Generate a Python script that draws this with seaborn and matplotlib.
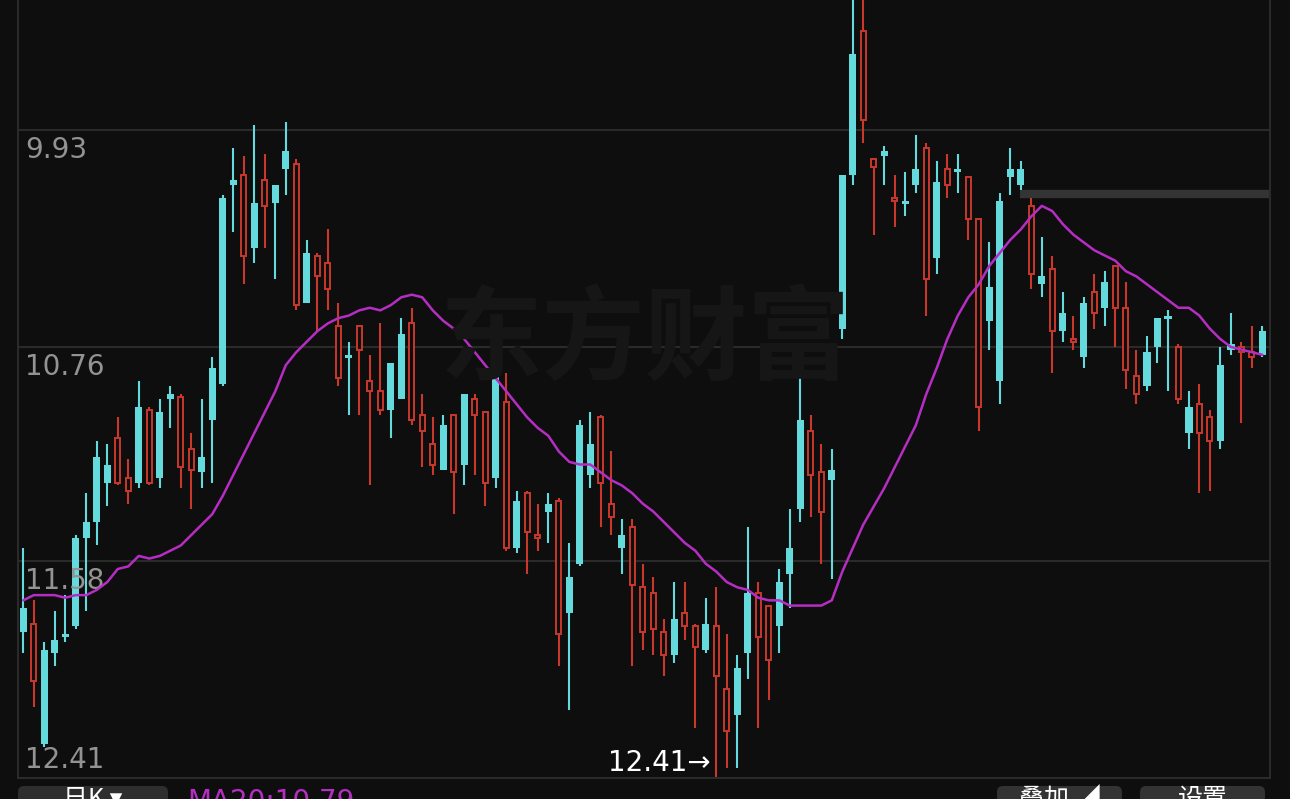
"""Daily candlestick chart with a 20-day moving average, dark trading-app style
(drawn with the price axis running top-down, as in the reference)."""

import matplotlib

matplotlib.use("Agg")
import matplotlib.pyplot as plt
import numpy as np
import pandas as pd
import seaborn as sns
from matplotlib.patches import FancyBboxPatch

# Candle values, one entry per trading day.
OPEN = [
	11.85, 11.82, 12.28, 11.93, 11.87, 11.83, 11.49, 11.43, 11.28, 11.11,
	11.26, 11.28, 11.00, 11.26, 10.96, 10.95, 11.15, 11.24, 11.04, 10.90,
	10.14, 10.10, 10.38, 10.12, 10.21, 10.08, 10.06, 10.59, 10.41, 10.44,
	10.68, 10.80, 10.68, 10.89, 10.93, 11.00, 10.96, 10.67, 11.02, 11.13,
	11.23, 11.02, 11.21, 10.96, 11.01, 11.26, 10.97, 11.53, 11.32, 11.48,
	11.39, 11.35, 11.78, 11.59, 11.25, 11.03, 11.36, 11.53, 11.45, 11.68,
	11.70, 11.85, 11.94, 11.78, 11.83, 11.92, 11.83, 12.07, 12.17, 11.93,
	11.70, 11.75, 11.83, 11.63, 11.38, 11.08, 11.24, 11.27, 10.69, 10.10,
	9.55, 10.04, 10.03, 10.19, 10.21, 10.14, 10.00, 10.42, 10.08, 10.09,
	10.11, 10.27, 10.66, 10.89, 10.11, 10.14, 10.22, 10.52, 10.46, 10.70,
	10.73, 10.80, 10.55, 10.61, 10.45, 10.61, 10.87, 10.91, 10.76, 10.65,
	10.76, 11.09, 10.98, 11.03, 11.12, 10.77, 10.76, 10.78, 10.79,
]
CLOSE = [
	11.76, 12.04, 11.92, 11.88, 11.86, 11.49, 11.43, 11.18, 11.21, 11.28,
	11.31, 10.99, 11.28, 11.01, 10.94, 11.22, 11.23, 11.18, 10.84, 10.19,
	10.12, 10.41, 10.21, 10.22, 10.14, 10.01, 10.60, 10.40, 10.49, 10.54,
	10.88, 10.79, 10.77, 10.93, 11.00, 10.82, 10.71, 11.04, 11.08, 11.21,
	11.06, 11.24, 10.94, 11.02, 11.28, 10.84, 11.53, 11.35, 11.47, 11.49,
	11.36, 11.86, 11.64, 11.06, 11.13, 11.28, 11.41, 11.48, 11.67, 11.85,
	11.84, 11.94, 11.80, 11.83, 11.91, 11.82, 12.02, 12.23, 11.99, 11.70,
	11.87, 11.96, 11.66, 11.53, 11.04, 11.25, 11.39, 11.23, 10.10, 9.64,
	9.89, 10.07, 10.01, 10.20, 10.20, 10.08, 10.50, 10.13, 10.14, 10.08,
	10.27, 10.99, 10.53, 10.20, 10.08, 10.08, 10.48, 10.49, 10.70, 10.63,
	10.74, 10.59, 10.63, 10.51, 10.61, 10.85, 10.94, 10.78, 10.65, 10.64,
	10.96, 10.99, 11.09, 11.12, 10.83, 10.75, 10.78, 10.80, 10.70,
]
HIGH = [
	11.93, 12.14, 12.29, 11.98, 11.89, 11.84, 11.77, 11.52, 11.37, 11.29,
	11.36, 11.30, 11.29, 11.30, 11.07, 11.30, 11.38, 11.30, 11.28, 10.91,
	10.32, 10.52, 10.44, 10.38, 10.50, 10.18, 10.62, 10.59, 10.70, 10.62,
	10.91, 11.02, 11.02, 11.29, 11.02, 11.11, 10.96, 11.06, 11.22, 11.25,
	11.23, 11.40, 11.29, 11.25, 11.37, 11.30, 11.54, 11.55, 11.63, 11.54,
	11.51, 11.98, 12.15, 11.60, 11.30, 11.45, 11.48, 11.63, 11.98, 11.92,
	11.94, 12.02, 11.97, 11.88, 12.22, 11.93, 12.41, 12.37, 12.37, 12.03,
	12.22, 12.11, 11.93, 11.76, 11.43, 11.41, 11.59, 11.65, 10.73, 10.14,
	9.98, 10.33, 10.14, 10.30, 10.26, 10.17, 10.64, 10.48, 10.19, 10.17,
	10.35, 11.08, 10.77, 10.98, 10.18, 10.16, 10.54, 10.57, 10.86, 10.74,
	10.77, 10.84, 10.69, 10.68, 10.76, 10.92, 10.98, 10.93, 10.82, 10.93,
	10.98, 11.15, 11.32, 11.31, 11.15, 10.79, 11.05, 10.84, 10.80,
]
LOW = [
	11.53, 11.73, 11.89, 11.77, 11.71, 11.48, 11.32, 11.12, 11.13, 11.03,
	11.19, 10.89, 10.99, 10.96, 10.91, 10.94, 11.09, 10.96, 10.80, 10.18,
	10.00, 10.03, 9.91, 10.02, 10.14, 9.90, 10.04, 10.35, 10.40, 10.31,
	10.59, 10.74, 10.68, 10.79, 10.67, 10.82, 10.65, 10.61, 10.94, 11.03,
	11.02, 11.02, 10.94, 10.94, 11.01, 10.83, 10.86, 11.31, 11.31, 11.36,
	11.32, 11.34, 11.51, 11.04, 11.01, 11.02, 11.16, 11.42, 11.42, 11.59,
	11.64, 11.80, 11.66, 11.66, 11.82, 11.72, 11.68, 11.86, 11.94, 11.45,
	11.66, 11.75, 11.61, 11.38, 10.80, 11.02, 11.13, 11.15, 10.10, 9.38,
	9.36, 10.04, 9.99, 10.10, 10.09, 9.95, 9.98, 10.05, 10.02, 10.02,
	10.11, 10.27, 10.36, 10.17, 10.00, 10.05, 10.19, 10.34, 10.41, 10.55,
	10.64, 10.57, 10.48, 10.47, 10.45, 10.51, 10.77, 10.72, 10.65, 10.62,
	10.75, 10.93, 10.90, 11.00, 10.76, 10.63, 10.74, 10.68, 10.68,
]
MA20 = [
	11.73, 11.71, 11.71, 11.71, 11.72, 11.71, 11.71, 11.69, 11.66, 11.61,
	11.60, 11.56, 11.57, 11.56, 11.54, 11.52, 11.48, 11.44, 11.40, 11.33,
	11.25, 11.17, 11.09, 11.01, 10.93, 10.83, 10.78, 10.74, 10.70, 10.67,
	10.65, 10.64, 10.62, 10.61, 10.62, 10.60, 10.57, 10.56, 10.57, 10.62,
	10.66, 10.69, 10.73, 10.78, 10.83, 10.88, 10.93, 10.98, 11.03, 11.07,
	11.10, 11.16, 11.20, 11.21, 11.21, 11.24, 11.27, 11.29, 11.32, 11.36,
	11.39, 11.43, 11.47, 11.51, 11.54, 11.59, 11.62, 11.66, 11.68, 11.69,
	11.72, 11.73, 11.73, 11.75, 11.75, 11.75, 11.75, 11.73, 11.62, 11.53,
	11.44, 11.37, 11.30, 11.22, 11.14, 11.06, 10.94, 10.84, 10.73, 10.64,
	10.57, 10.52, 10.45, 10.40, 10.35, 10.31, 10.26, 10.22, 10.24, 10.29,
	10.33, 10.36, 10.39, 10.41, 10.43, 10.47, 10.49, 10.52, 10.55, 10.58,
	10.61, 10.61, 10.64, 10.69, 10.73, 10.76, 10.77, 10.78, 10.79,
]

Y_TICKS = [9.93, 10.76, 11.58, 12.41]
Y_EDGE = 9.432  # price at the top edge of the visible plot
PRICE_LINE = 10.175  # grey reference band on the right
PRICE_LINE_FROM = 95  # candle index where the band starts
MA_LABEL = "MA20:10.79"
WATERMARK = "东方财富"
TOOLBAR_LEFT = "日K ▾"
TOOLBAR_RIGHT = ["叠加 ◢", "设置"]

BG = "#0e0e0e"
GRID = "#2a2a2a"
UP = "#c9382b"
DOWN = "#64dadd"
MA_COLOUR = "#b62dc4"

W, H = 1290, 799


def main() -> None:
	df = pd.DataFrame({"open": OPEN, "close": CLOSE, "high": HIGH, "low": LOW, "ma": MA20})
	df["x"] = np.arange(len(df))
	df["up"] = df["close"] >= df["open"]
	df["body_lo"] = df[["open", "close"]].min(axis=1)
	df["body_h"] = (df["close"] - df["open"]).abs().clip(lower=0.012)

	sns.set_theme(style="dark", rc={"axes.facecolor": BG, "figure.facecolor": BG})
	plt.rcParams["font.family"] = ["DejaVu Sans", "Noto Sans CJK SC"]

	fig = plt.figure(figsize=(W / 100, H / 100), dpi=100)
	ax = fig.add_axes([18 / W, 21 / H, 1252 / W, 778 / H])
	ax.set_facecolor(BG)
	ax.grid(False)

	for v in Y_TICKS[:-1]:
		ax.axhline(v, color=GRID, lw=1.5, zorder=0)

	up = df[df["up"]]
	down = df[~df["up"]]
	ax.vlines(down["x"], down["low"], down["high"], color=DOWN, lw=1.5, zorder=2)
	ax.bar(down["x"], down["body_h"], bottom=down["body_lo"], width=0.7,
		color=DOWN, linewidth=0, zorder=3)
	ax.vlines(up["x"], up["low"], up["high"], color=UP, lw=1.5, zorder=2)
	ax.bar(up["x"], up["body_h"], bottom=up["body_lo"], width=0.5,
		facecolor=BG, edgecolor=UP, linewidth=1.4, zorder=3)

	sns.lineplot(data=df, x="x", y="ma", ax=ax, color=MA_COLOUR, lw=1.8,
		zorder=4, legend=False)

	ax.hlines(PRICE_LINE, PRICE_LINE_FROM - 0.1, len(df) - 0.27, color="#343434",
		lw=6, zorder=1)

	ax.set_xlim(-0.5, len(df) - 0.27)
	ax.set_ylim(Y_TICKS[-1], Y_EDGE)
	ax.set_xticks([])
	ax.set_yticks([])
	ax.set_xlabel("")
	ax.set_ylabel("")
	for side in ["left", "right", "bottom"]:
		ax.spines[side].set_visible(True)
		ax.spines[side].set_color(GRID)
		ax.spines[side].set_linewidth(1.5)
	ax.spines["top"].set_visible(False)

	for v in Y_TICKS:
		off = 18 if v == Y_TICKS[-1] else -20
		ax.annotate(f"{v:.2f}", xy=(0, v), xycoords=("axes fraction", "data"),
			xytext=(7, off), textcoords="offset pixels", ha="left", va="center",
			color="#939393", fontsize=20)

	hi = df.loc[df["high"].idxmax()]
	ax.annotate(f"{hi['high']:.2f}→", xy=(hi["x"], hi["high"]), xytext=(-6, 15),
		textcoords="offset pixels", ha="right", va="center", color="white",
		fontsize=20)

	fig.text(645 / W, 1 - 342 / H, WATERMARK, ha="center", va="center",
		fontsize=74, color="#161616", family="Noto Sans CJK SC", weight="bold",
		zorder=0)

	# toolbar strip, mostly cut off at the lower edge like the reference
	boxes = [(18, 150, "#2e2e2e"), (997, 125, "#333333"), (1140, 125, "#333333")]
	for x0, w, c in boxes:
		fig.patches.append(FancyBboxPatch(
			(x0 / 100, -0.15), w / 100, 0.28,
			boxstyle="round,pad=0,rounding_size=0.06",
			transform=fig.dpi_scale_trans, facecolor=c, edgecolor="none"))
	fig.text(93 / W, 0, TOOLBAR_LEFT, ha="center", va="center", color="white",
		fontsize=18, family=["Noto Sans CJK SC", "DejaVu Sans"])
	for (x0, w, _), label in zip(boxes[1:], TOOLBAR_RIGHT):
		fig.text((x0 + w / 2) / W, 0, label, ha="center", va="center", color="white",
			fontsize=18, family=["Noto Sans CJK SC", "DejaVu Sans"])
	fig.text(187 / W, -0.004, MA_LABEL, ha="left", va="center", color=MA_COLOUR,
		fontsize=20)

	fig.savefig("out.png", dpi=100, facecolor=BG)
	plt.close(fig)


if __name__ == "__main__":
	main()
